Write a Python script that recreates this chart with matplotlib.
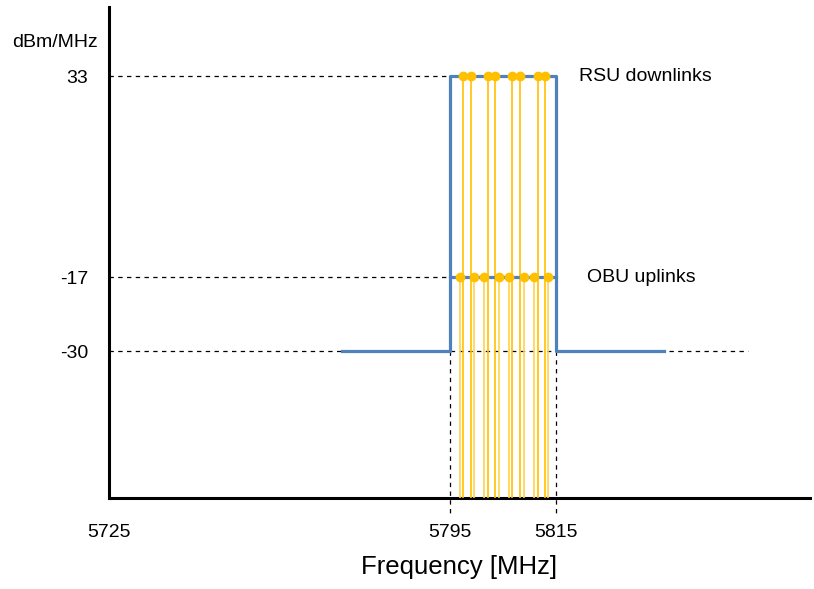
import numpy as np
import matplotlib
matplotlib.use("Agg")
import matplotlib.pyplot as plt

plt.rcParams['font.family'] = ['Liberation Sans', 'DejaVu Sans']

# band edges and spectrum mask levels
band_lo, band_hi = 5795, 5815
mask_lo, mask_hi = 5775, 5835
level_rsu = 33
level_obu = -17
level_out = -30
freq_start = 5725

# carrier frequencies (MHz)
rsu_carriers = [5797.5, 5798.9, 5802.2, 5803.6, 5806.8, 5808.2, 5811.6, 5812.9]
obu_carriers = [5796.9, 5799.5, 5801.5, 5804.2, 5806.2, 5808.9, 5810.9, 5813.5]

ytick_vals = [level_rsu, level_obu, level_out]
xtick_vals = [freq_start, band_lo, band_hi]

BLUE = '#4F81BD'
GOLD = '#FFC000'
GOLD_LIGHT = '#FFD34D'

# the original drawing is not to scale: piecewise axes
x_knots = [5500, 5725, 5775, 5795, 5815, 5835, 6100]
x_pos = [109 - 225 * 4.68, 109, 343, 450.7, 557, 665, 665 + 265 * 5.315]
y_knots = [-200, -30, -17, 33, 200]
y_pos = [238 - 170 * 5.69, 238, 312, 513, 513 + 167 * 4.02]


def fx(v):
    return np.interp(v, x_knots, x_pos)


def fx_inv(p):
    return np.interp(p, x_pos, x_knots)


def fy(v):
    return np.interp(v, y_knots, y_pos)


def fy_inv(p):
    return np.interp(p, y_pos, y_knots)


fig = plt.figure(figsize=(8.14, 5.89), dpi=100)
ax = fig.add_axes([109 / 814, 91 / 589, 701 / 814, 491 / 589])
ax.set_xscale('function', functions=(fx, fx_inv))
ax.set_yscale('function', functions=(fy, fy_inv))
ax.set_xlim(freq_start, 5862.6)
ymin, ymax = -55.8, 50.2
ax.set_ylim(ymin, ymax)

dash = (0, (3.5, 3.5))
# dashed guides
ax.plot([freq_start, band_lo], [level_rsu, level_rsu], color='black', lw=0.9, ls=dash)
ax.plot([freq_start, band_lo], [level_obu, level_obu], color='black', lw=0.9, ls=dash)
ax.plot([freq_start, 5851], [level_out, level_out], color='black', lw=0.9, ls=dash)
for f in [band_lo, band_hi]:
    ax.plot([f, f], [level_out, -58.5], color='black', lw=0.9, ls=dash, clip_on=False)

# carriers
ax.vlines(obu_carriers, ymin, level_obu, color=GOLD_LIGHT, lw=1.2, zorder=3)
ax.vlines(rsu_carriers, ymin, level_rsu, color=GOLD, lw=1.2, zorder=3)

# mask
ax.plot([mask_lo, band_lo, band_lo, band_hi, band_hi, mask_hi],
        [level_out, level_out, level_rsu, level_rsu, level_out, level_out],
        color=BLUE, lw=2.3, zorder=4)
ax.plot([band_lo, band_hi], [level_obu, level_obu], color=BLUE, lw=2.3, zorder=4)

ax.plot(obu_carriers, [level_obu] * len(obu_carriers), 'o', color=GOLD, ms=6, zorder=5)
ax.plot(rsu_carriers, [level_rsu] * len(rsu_carriers), 'o', color=GOLD, ms=6, zorder=5)

ax.text(5819.3, level_rsu, 'RSU downlinks', fontsize=14, va='center', ha='left')
ax.text(5820.8, level_obu, 'OBU uplinks', fontsize=14, va='center', ha='left')
ax.text(-0.016, 0.927, 'dBm/MHz', transform=ax.transAxes, fontsize=14,
        va='center', ha='right')

ax.set_yticks(ytick_vals)
ax.set_yticklabels([str(v) for v in ytick_vals])
ax.set_xticks(xtick_vals)
ax.set_xticklabels([str(v) for v in xtick_vals])
ax.tick_params(axis='both', length=0, labelsize=14)
ax.tick_params(axis='y', pad=15)
ax.tick_params(axis='x', pad=19)
ax.minorticks_off()
ax.set_xlabel('Frequency [MHz]', fontsize=18.5, labelpad=10)

for s in ['top', 'right']:
    ax.spines[s].set_visible(False)
for s in ['left', 'bottom']:
    ax.spines[s].set_linewidth(2.2)
    ax.spines[s].set_color('black')

fig.savefig('out.png', dpi=100)
